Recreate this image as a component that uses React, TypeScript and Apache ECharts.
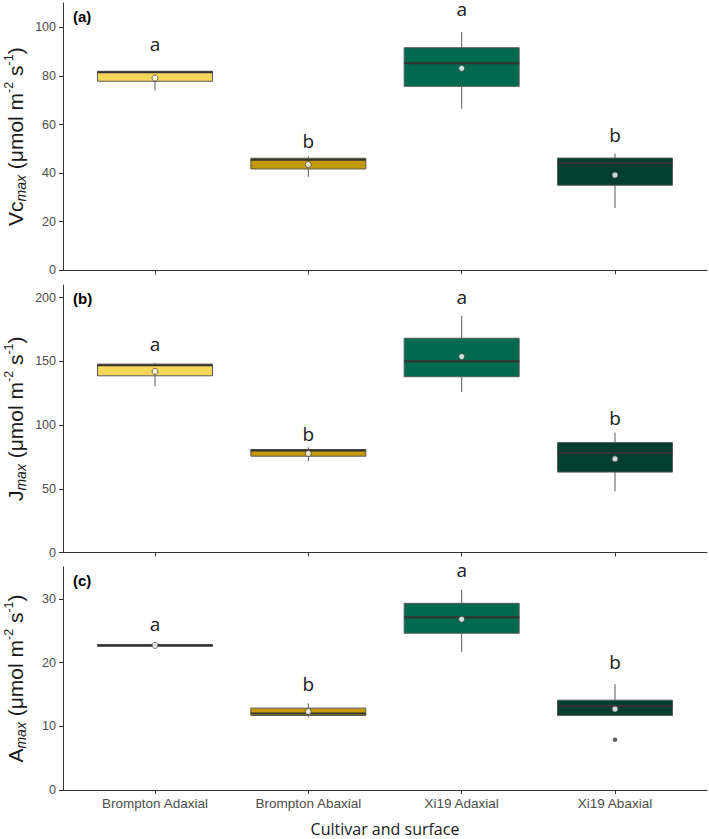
import React, { useEffect, useRef } from "react";
import * as echarts from "echarts";

// ---------- data ----------
const categories = ["Brompton Adaxial", "Brompton Abaxial", "Xi19 Adaxial", "Xi19 Abaxial"];
const fillColors = ["#F7D65C", "#C49A00", "#006A4E", "#033F2F"];

// [min, q1, median, q3, max]
const vcmaxBoxes = [
  [74, 77.8, 81.5, 81.9, 82],
  [38.4, 41.7, 45.5, 46.1, 46.9],
  [66.5, 75.7, 85.2, 91.6, 98.1],
  [25.6, 35, 44.2, 46.2, 48],
];
const vcmaxMeans = [79.1, 43.5, 83.1, 39.2];
const vcmaxLetters = ["a", "b", "a", "b"];
const vcmaxLetterY = [93, 53.2, 107.5, 55.6];
const vcmaxTicks = [0, 20, 40, 60, 80, 100];

const jmaxBoxes = [
  [130.4, 138.7, 147, 147.9, 149],
  [71.7, 75.6, 80, 80.8, 82.5],
  [126, 138, 150.2, 168.2, 185.9],
  [48, 63.1, 78.2, 86.3, 94.1],
];
const jmaxMeans = [142.1, 77.7, 153.8, 73.5];
const jmaxLetters = ["a", "b", "a", "b"];
const jmaxLetterY = [163.8, 93.3, 200.3, 105.6];
const jmaxTicks = [0, 50, 100, 150, 200];

const amaxBoxes = [
  [22.55, 22.55, 22.7, 22.8, 22.8],
  [11.4, 11.7, 12.0, 12.85, 13.6],
  [21.7, 24.6, 27.1, 29.3, 31.4],
  [11.7, 11.7, 13.2, 14.1, 16.6],
];
const amaxMeans = [22.7, 12.3, 26.8, 12.7];
const amaxOutliers = [[4, 7.9]];
const amaxLetters = ["a", "b", "a", "b"];
const amaxLetterY = [26.1, 16.6, 34.6, 20.1];
const amaxTicks = [0, 10, 20, 30];

const yMaxes = [110, 210, 35];
const panelTags = ["(a)", "(b)", "(c)"];
const xTitle = "Cultivar and surface";

// ---------- layout ----------
const LEFT = 63;
const RIGHT = 2;
const gridsPx = [
  { top: 3, height: 267.3 },
  { top: 285, height: 267.5 },
  { top: 567, height: 223 },
];
const BOX_WIDTH = 0.75;
const TICK_FONT = "Liberation Sans, Arial, sans-serif";
const TEXT_FONT = "Open Sans, sans-serif";

function boxRender(params: any, api: any) {
  const x = api.value(0);
  const lo = api.coord([x, api.value(1)]);
  const q1 = api.coord([x, api.value(2)]);
  const md = api.coord([x, api.value(3)]);
  const q3 = api.coord([x, api.value(4)]);
  const hi = api.coord([x, api.value(5)]);
  const w = api.size([BOX_WIDTH, 0])[0];
  const cx = lo[0];
  const fill = fillColors[params.dataIndex];
  return {
    type: "group",
    children: [
      { type: "line", shape: { x1: cx, y1: hi[1], x2: cx, y2: q3[1] }, style: { stroke: "#595959", lineWidth: 1 } },
      { type: "line", shape: { x1: cx, y1: q1[1], x2: cx, y2: lo[1] }, style: { stroke: "#595959", lineWidth: 1 } },
      {
        type: "rect",
        shape: { x: cx - w / 2, y: q3[1], width: w, height: q1[1] - q3[1] },
        style: { fill, stroke: "#5a5a5a", lineWidth: 1 },
      },
      { type: "line", shape: { x1: cx - w / 2, y1: md[1], x2: cx + w / 2, y2: md[1] }, style: { stroke: "#333333", lineWidth: 2 } },
    ],
  };
}

function letterRender(_params: any, api: any) {
  const p = api.coord([api.value(0), api.value(1)]);
  return {
    type: "text",
    x: p[0],
    y: p[1],
    style: {
      text: String(api.value(2)),
      fontSize: 19,
      lineHeight: 14,
      fontFamily: TEXT_FONT,
      fill: "#1a1a1a",
      align: "center",
      verticalAlign: "middle",
    },
  };
}

export default function App() {
  const ref = useRef<HTMLDivElement>(null);

  useEffect(() => {
    if (!ref.current) return;
    const chart = echarts.init(ref.current, undefined, { renderer: "svg" });

    const panels = [
      { boxes: vcmaxBoxes, means: vcmaxMeans, letters: vcmaxLetters, letterY: vcmaxLetterY, ticks: vcmaxTicks, outliers: [] as number[][] },
      { boxes: jmaxBoxes, means: jmaxMeans, letters: jmaxLetters, letterY: jmaxLetterY, ticks: jmaxTicks, outliers: [] as number[][] },
      { boxes: amaxBoxes, means: amaxMeans, letters: amaxLetters, letterY: amaxLetterY, ticks: amaxTicks, outliers: amaxOutliers },
    ];
    const catTicks = categories.map((_, i) => i + 1);

    const grid = gridsPx.map((g) => ({ left: LEFT, right: RIGHT, top: g.top, height: g.height }));
    const xAxis = gridsPx.map((_, i) => ({
      type: "value",
      gridIndex: i,
      min: 0.4,
      max: 4.6,
      splitLine: { show: false },
      axisLine: { show: true, onZero: false, lineStyle: { color: "#333333", width: 1 } },
      axisTick: { show: true, customValues: catTicks, length: 4, lineStyle: { color: "#333333" } },
      axisLabel: {
        show: i === 2,
        customValues: catTicks,
        formatter: (v: number) => categories[Math.round(v) - 1] ?? "",
        color: "#4d4d4d",
        fontSize: 13.5,
        fontFamily: TICK_FONT,
        margin: 6,
      },
    }));
    const yAxis = panels.map((p, i) => ({
      type: "value",
      gridIndex: i,
      min: 0,
      max: yMaxes[i],
      splitLine: { show: false },
      axisLine: { show: true, onZero: false, lineStyle: { color: "#333333", width: 1 } },
      axisTick: { show: true, customValues: p.ticks, length: 4, lineStyle: { color: "#333333" } },
      axisLabel: {
        customValues: p.ticks,
        color: "#4d4d4d",
        fontSize: 12.5,
        fontFamily: TICK_FONT,
        margin: 7,
      },
    }));

    const series: any[] = [];
    panels.forEach((p, i) => {
      series.push({
        type: "custom",
        xAxisIndex: i,
        yAxisIndex: i,
        renderItem: boxRender,
        encode: { x: 0, y: [1, 2, 3, 4, 5] },
        data: p.boxes.map((b, k) => [k + 1, ...b]),
        z: 2,
      });
      if (p.outliers.length) {
        series.push({
          type: "scatter",
          xAxisIndex: i,
          yAxisIndex: i,
          symbol: "circle",
          symbolSize: 4.5,
          itemStyle: { color: "#333333" },
          data: p.outliers,
          z: 3,
        });
      }
      series.push({
        type: "scatter",
        xAxisIndex: i,
        yAxisIndex: i,
        symbol: "circle",
        symbolSize: 6,
        itemStyle: { color: "#ffffff", borderColor: "#444444", borderWidth: 1 },
        data: p.means.map((m, k) => [k + 1, m]),
        z: 4,
      });
      series.push({
        type: "custom",
        xAxisIndex: i,
        yAxisIndex: i,
        renderItem: letterRender,
        encode: { x: 0, y: 1 },
        dimensions: ["x", "y", { name: "letter", type: "ordinal" }],
        data: p.letterY.map((y, k) => [k + 1, y, p.letters[k]]),
        clip: false,
        z: 5,
      });
    });

    const titleRich = {
      sub: { fontSize: 14, fontStyle: "italic", fontFamily: TICK_FONT, fill: "#1a1a1a", color: "#1a1a1a", lineHeight: 12, verticalAlign: "bottom" },
      sup: { fontSize: 12.5, fontFamily: TICK_FONT, fill: "#1a1a1a", color: "#1a1a1a", lineHeight: 12, verticalAlign: "top" },
    };
    const yTitles = [
      "Vc{sub|max} (μmol m{sup|-2} s{sup|-1})",
      "J{sub|max} (μmol m{sup|-2} s{sup|-1})",
      "A{sub|max} (μmol m{sup|-2} s{sup|-1})",
    ];

    const graphic: any[] = [];
    gridsPx.forEach((g, i) => {
      graphic.push({
        type: "text",
        x: 15,
        y: g.top + g.height / 2,
        rotation: Math.PI / 2,
        style: {
          text: yTitles[i],
          rich: titleRich,
          fontSize: 21,
          lineHeight: 26,
          fontFamily: TICK_FONT,
          fill: "#1a1a1a",
          align: "center",
          verticalAlign: "middle",
        },
      });
      graphic.push({
        type: "text",
        x: 73,
        y: g.top + 13,
        style: {
          text: panelTags[i],
          fontSize: 15,
          fontWeight: "bold",
          fontFamily: TICK_FONT,
          fill: "#000000",
          align: "left",
          verticalAlign: "middle",
        },
      });
    });
    graphic.push({
      type: "text",
      x: (LEFT + 709 - RIGHT) / 2,
      y: 829,
      style: {
        text: xTitle,
        fontSize: 16,
        fontFamily: TEXT_FONT,
        fill: "#1a1a1a",
        align: "center",
        verticalAlign: "middle",
      },
    });

    chart.setOption({
      animation: false,
      backgroundColor: "#ffffff",
      grid,
      xAxis,
      yAxis,
      series,
      graphic,
    });
    return () => chart.dispose();
  }, []);

  return (
    <div
      ref={ref}
      style={{ position: "fixed", left: 0, top: 0, width: 709, height: 839 }}
    />
  );
}
